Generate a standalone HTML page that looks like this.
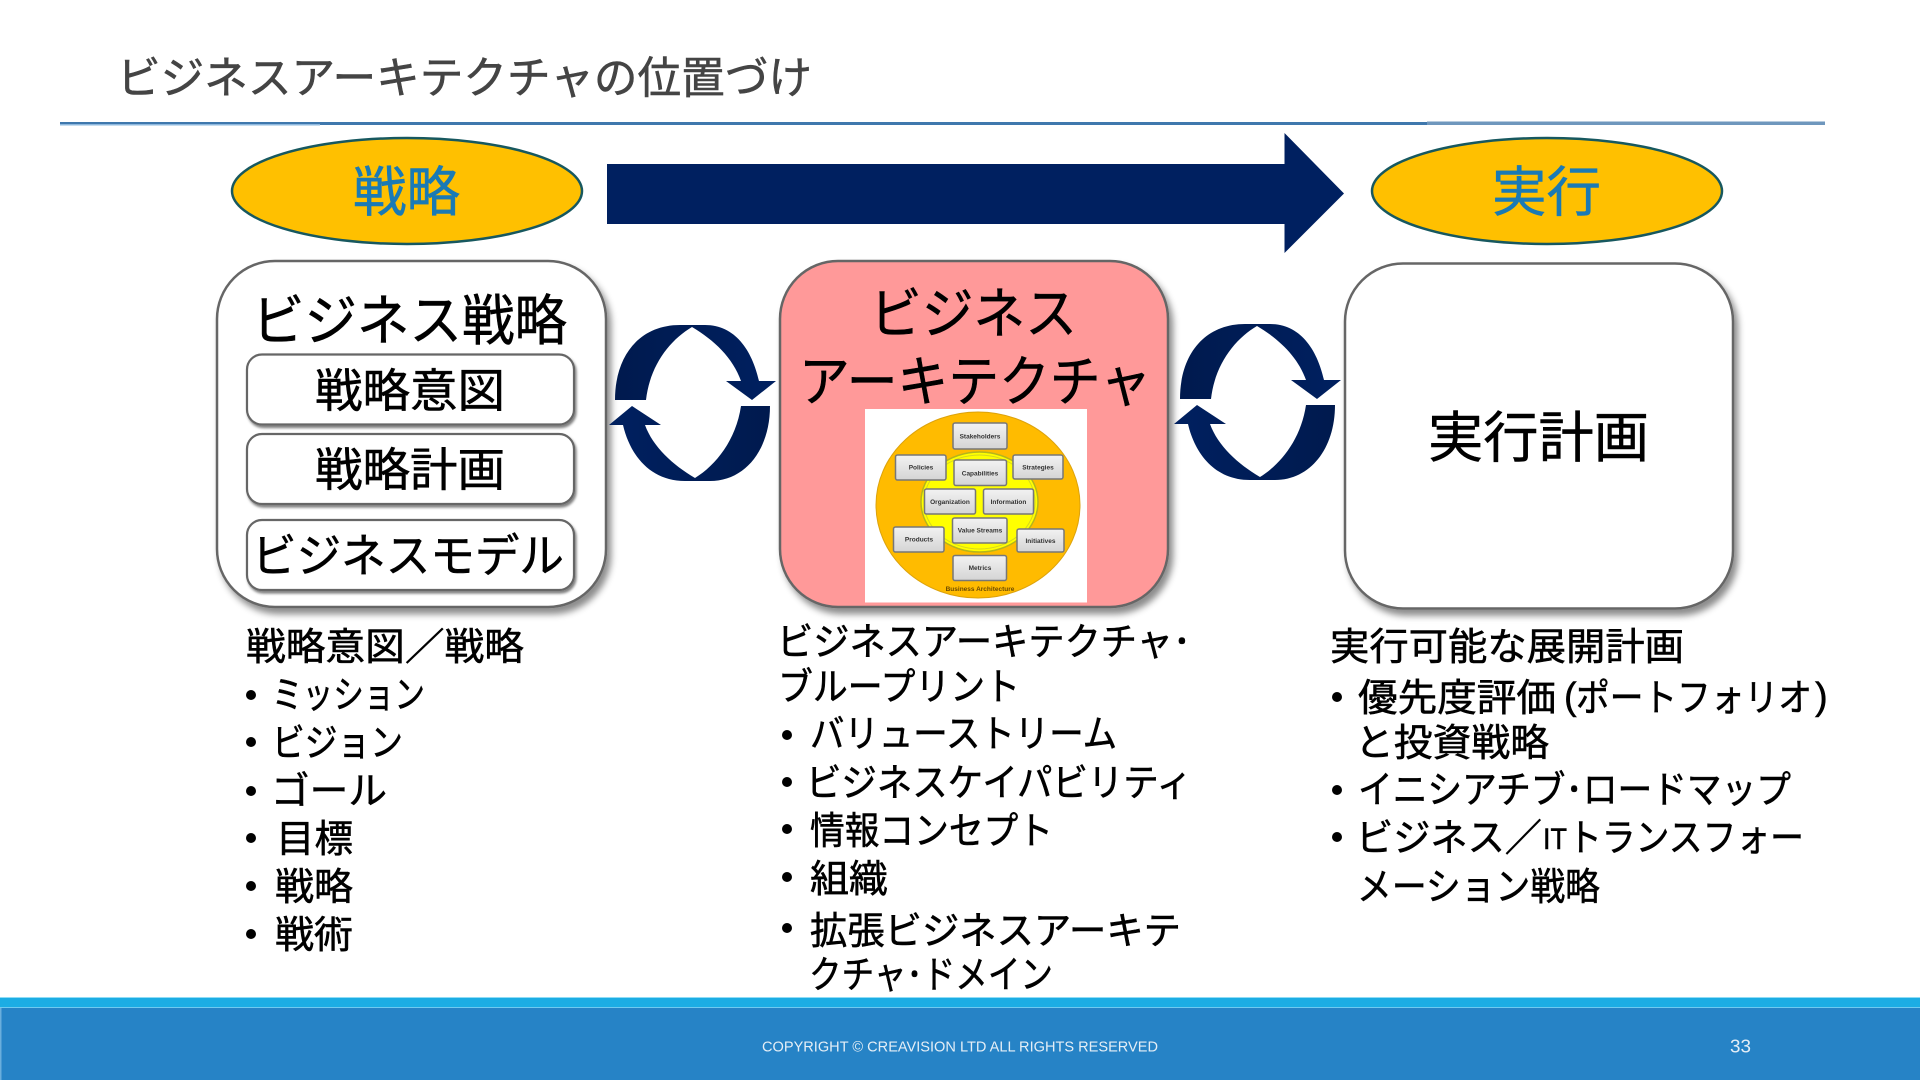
<!DOCTYPE html>
<html lang="ja"><head><meta charset="utf-8"><style>
html,body{margin:0;padding:0;background:#fff;width:1920px;height:1080px;overflow:hidden}
svg{display:block}
text{font-family:"Liberation Sans","Noto Sans CJK JP",sans-serif;fill:#000;stroke:#000;stroke-width:.55px}
.t{font-size:38px}
.m{font-family:"Liberation Sans",sans-serif;font-size:6.5px;font-weight:bold;fill:#333;stroke:none;text-anchor:middle}
.f{fill:#e4eef6;stroke:none}
</style></head><body>
<svg width="1920" height="1080" viewBox="0 0 1920 1080" xmlns="http://www.w3.org/2000/svg">
<defs>
<filter id="sh" x="-10%" y="-10%" width="125%" height="125%"><feDropShadow dx="4" dy="6" stdDeviation="3.5" flood-color="#000" flood-opacity=".45"/></filter>
<filter id="sh2" x="-10%" y="-10%" width="125%" height="130%"><feDropShadow dx="1.5" dy="2.5" stdDeviation="1.2" flood-color="#000" flood-opacity=".5"/></filter>
<filter id="bl"><feGaussianBlur stdDeviation=".35"/></filter>
<linearGradient id="g1" x1="0" x2="1" y1="0" y2="0"><stop offset="0" stop-color="#001a4e"/><stop offset="1" stop-color="#002060"/></linearGradient>
<linearGradient id="g2" x1="0" x2="1" y1="0" y2="0"><stop offset="0" stop-color="#002060"/><stop offset="1" stop-color="#001a4e"/></linearGradient>
<linearGradient id="bx" x1="0" x2="0" y1="0" y2="1"><stop offset="0" stop-color="#f2f2f2"/><stop offset="1" stop-color="#d4d4d4"/></linearGradient>
<g id="cyc">
<path fill="url(#g1)" d="M615 400C615 355 640 325 680 325L705 325C735 325 752 350 759 381L776 381L752 400L726 381L741 381C733 358 714 340 692 327C670 340 650 365 646 400Z"/>
<path fill="url(#g2)" d="M770 406C770 450 745 481 710 481L685 481C650 481 630 455 623 425L609 425L632 406L661 425L645 425C653 447 673 465 695 478C716 465 736 440 741 406Z"/>
</g>
</defs>
<rect width="1920" height="1080" fill="#fff"/>

<text x="117" y="93" font-size="44" textLength="695" lengthAdjust="spacingAndGlyphs" style="fill:#444;stroke:#444">ビジネスアーキテクチャの位置づけ</text>
<rect x="60" y="122" width="1367" height="3" fill="#3f78ad"/>
<rect x="60" y="124" width="260" height="1.5" fill="#8db8de"/>
<rect x="1427" y="121.5" width="398" height="3.5" fill="#6f97bd"/>

<ellipse cx="407" cy="191" rx="175" ry="53" fill="#FFC000" stroke="#17585f" stroke-width="2.5"/>
<text x="353" y="211" font-size="54" textLength="107" lengthAdjust="spacingAndGlyphs" style="fill:#1a7ab5;stroke:#1a7ab5">戦略</text>
<ellipse cx="1547" cy="191" rx="175" ry="53" fill="#FFC000" stroke="#17585f" stroke-width="2.5"/>
<text x="1492" y="211" font-size="54" textLength="109" lengthAdjust="spacingAndGlyphs" style="fill:#1a7ab5;stroke:#1a7ab5">実行</text>

<path d="M607 164L1284.5 164L1284.5 133L1344 193.5L1284.5 253L1284.5 224L607 224Z" fill="#002060"/>

<!-- box 1 -->
<rect x="217" y="261" width="389" height="346" rx="58" ry="58" fill="#fff" stroke="#666" stroke-width="2.5" filter="url(#sh)"/>
<text x="252" y="340" font-size="55" textLength="315" lengthAdjust="spacingAndGlyphs">ビジネス戦略</text>
<rect x="247" y="354.5" width="327" height="70" rx="15" fill="#fff" stroke="#666" stroke-width="2.2" filter="url(#sh2)"/>
<text x="315" y="407" font-size="46" textLength="190" lengthAdjust="spacingAndGlyphs">戦略意図</text>
<rect x="247" y="434" width="327" height="70" rx="15" fill="#fff" stroke="#666" stroke-width="2.2" filter="url(#sh2)"/>
<text x="315" y="486" font-size="46" textLength="190" lengthAdjust="spacingAndGlyphs">戦略計画</text>
<rect x="247" y="520" width="327" height="70" rx="15" fill="#fff" stroke="#666" stroke-width="2.2" filter="url(#sh2)"/>
<text x="252" y="572" font-size="46" textLength="312" lengthAdjust="spacingAndGlyphs">ビジネスモデル</text>

<!-- box 2 -->
<rect x="780" y="261" width="388" height="346" rx="58" ry="58" fill="#FF9999" stroke="#666" stroke-width="2.5" filter="url(#sh)"/>
<text x="870" y="333" font-size="55" textLength="207" lengthAdjust="spacingAndGlyphs">ビジネス</text>
<text x="799" y="401" font-size="55" textLength="352" lengthAdjust="spacingAndGlyphs">アーキテクチャ</text>

<rect x="865" y="409" width="222" height="193.5" fill="#fff"/>
<g filter="url(#bl)">
<ellipse cx="978" cy="505" rx="102" ry="93" fill="#FFBB00" stroke="#dca20a"/>
<ellipse cx="979.5" cy="502" rx="58.5" ry="50" fill="#FFFF00" stroke="#b5b51a" stroke-width="1.5"/>
<ellipse cx="979.5" cy="502" rx="55.5" ry="47" fill="none" stroke="#d6d620" stroke-width="1"/>
<g fill="url(#bx)" stroke="#777" stroke-width="1.5">
<rect x="953" y="423" width="54" height="26" rx="2"/>
<rect x="895.5" y="455" width="50.5" height="25" rx="2"/>
<rect x="954" y="460" width="52.5" height="25.5" rx="2"/>
<rect x="1013" y="455" width="50" height="24" rx="2"/>
<rect x="924.5" y="489" width="51" height="25" rx="2"/>
<rect x="983.5" y="489" width="50" height="25" rx="2"/>
<rect x="952.5" y="518" width="54.5" height="25" rx="2"/>
<rect x="893.5" y="527" width="50.5" height="25" rx="2"/>
<rect x="1017" y="529" width="47" height="23" rx="2"/>
<rect x="953" y="555.5" width="53.5" height="25" rx="2"/>
</g>
<text class="m" x="980" y="438.5">Stakeholders</text>
<text class="m" x="921" y="469.5">Policies</text>
<text class="m" x="980" y="475.5">Capabilities</text>
<text class="m" x="1038" y="469.5">Strategies</text>
<text class="m" x="950" y="504">Organization</text>
<text class="m" x="1008.5" y="504">Information</text>
<text class="m" x="980" y="532.5">Value Streams</text>
<text class="m" x="919" y="541.5">Products</text>
<text class="m" x="1040.5" y="543">Initiatives</text>
<text class="m" x="980" y="570">Metrics</text>
<text class="m" x="980" y="591" style="fill:#6b4a00">Business Architecture</text>
</g>

<!-- box 3 -->
<rect x="1345" y="263.5" width="388" height="345" rx="58" ry="58" fill="#fff" stroke="#666" stroke-width="2.5" filter="url(#sh)"/>
<text x="1428" y="457" font-size="55" textLength="221" lengthAdjust="spacingAndGlyphs">実行計画</text>

<use href="#cyc"/>
<use href="#cyc" transform="translate(565,-1)"/>

<!-- column 1 -->
<text class="t" x="246" y="660" textLength="278" lengthAdjust="spacingAndGlyphs">戦略意図／戦略</text>
<g fill="#000">
<circle cx="251" cy="695" r="5"/><circle cx="251" cy="742" r="5"/><circle cx="251" cy="791" r="5"/><circle cx="251" cy="838" r="5"/><circle cx="251" cy="886" r="5"/><circle cx="251" cy="934" r="5"/>
<circle cx="787" cy="735" r="5"/><circle cx="787" cy="782" r="5"/><circle cx="787" cy="829" r="5"/><circle cx="787" cy="877" r="5"/><circle cx="787" cy="928" r="5"/>
<circle cx="1337" cy="697" r="5"/><circle cx="1337" cy="790" r="5"/><circle cx="1337" cy="837" r="5"/>
</g>
<text class="t" x="272" y="708" textLength="153" lengthAdjust="spacingAndGlyphs">ミッション</text>
<text class="t" x="272" y="756" textLength="131" lengthAdjust="spacingAndGlyphs">ビジョン</text>
<text class="t" x="271" y="804" textLength="116" lengthAdjust="spacingAndGlyphs">ゴール</text>
<text class="t" x="276" y="852" textLength="77" lengthAdjust="spacingAndGlyphs">目標</text>
<text class="t" x="275" y="900" textLength="78" lengthAdjust="spacingAndGlyphs">戦略</text>
<text class="t" x="275" y="948" textLength="78" lengthAdjust="spacingAndGlyphs">戦術</text>

<!-- column 2 -->
<text class="t" x="777" y="655" textLength="414" lengthAdjust="spacingAndGlyphs">ビジネスアーキテクチャ･</text>
<text class="t" x="778" y="700" textLength="242" lengthAdjust="spacingAndGlyphs">ブループリント</text>
<text class="t" x="810" y="747" textLength="307" lengthAdjust="spacingAndGlyphs">バリューストリーム</text>
<text class="t" x="806" y="796" textLength="386" lengthAdjust="spacingAndGlyphs">ビジネスケイパビリティ</text>
<text class="t" x="810" y="844" textLength="243" lengthAdjust="spacingAndGlyphs">情報コンセプト</text>
<text class="t" x="810" y="892" textLength="78" lengthAdjust="spacingAndGlyphs">組織</text>
<text class="t" x="810" y="944" textLength="371" lengthAdjust="spacingAndGlyphs">拡張ビジネスアーキテ</text>
<text class="t" x="809" y="988" textLength="244" lengthAdjust="spacingAndGlyphs">クチャ･ドメイン</text>

<!-- column 3 -->
<text class="t" x="1330" y="660" textLength="354" lengthAdjust="spacingAndGlyphs">実行可能な展開計画</text>
<text class="t" x="1358" y="711" textLength="198" lengthAdjust="spacingAndGlyphs">優先度評価</text>
<text class="t" x="1564" y="709">(</text>
<text class="t" x="1576" y="711" textLength="236" lengthAdjust="spacingAndGlyphs">ポートフォリオ</text>
<text class="t" x="1815" y="709">)</text>
<text class="t" x="1355" y="756" textLength="194" lengthAdjust="spacingAndGlyphs">と投資戦略</text>
<text class="t" x="1358" y="803" textLength="433" lengthAdjust="spacingAndGlyphs">イニシアチブ･ロードマップ</text>
<text class="t" x="1356" y="851" textLength="186" lengthAdjust="spacingAndGlyphs">ビジネス／</text>
<text x="1543" y="849" font-size="30" textLength="24" lengthAdjust="spacingAndGlyphs">IT</text>
<text class="t" x="1568" y="851" textLength="236" lengthAdjust="spacingAndGlyphs">トランスフォー</text>
<text class="t" x="1357" y="900" textLength="243" lengthAdjust="spacingAndGlyphs">メーション戦略</text>

<!-- footer -->
<rect x="0" y="997" width="1920" height="83" fill="#1CADE4"/>
<rect x="0" y="997" width="1920" height="1" fill="#8fdcf5"/>
<rect x="0" y="1007" width="1920" height="1" fill="#6fcaf0"/>
<rect x="1" y="1008" width="1919" height="72" fill="#2683C6"/>
<rect x="0" y="1008" width="1.5" height="72" fill="#6aaedc"/>
<text class="f" x="762" y="1051.5" font-size="15" textLength="396" lengthAdjust="spacingAndGlyphs">COPYRIGHT © CREAVISION LTD ALL RIGHTS RESERVED</text>
<text class="f" x="1730" y="1052.5" font-size="18" textLength="21" lengthAdjust="spacingAndGlyphs">33</text>
</svg>
</body></html>
